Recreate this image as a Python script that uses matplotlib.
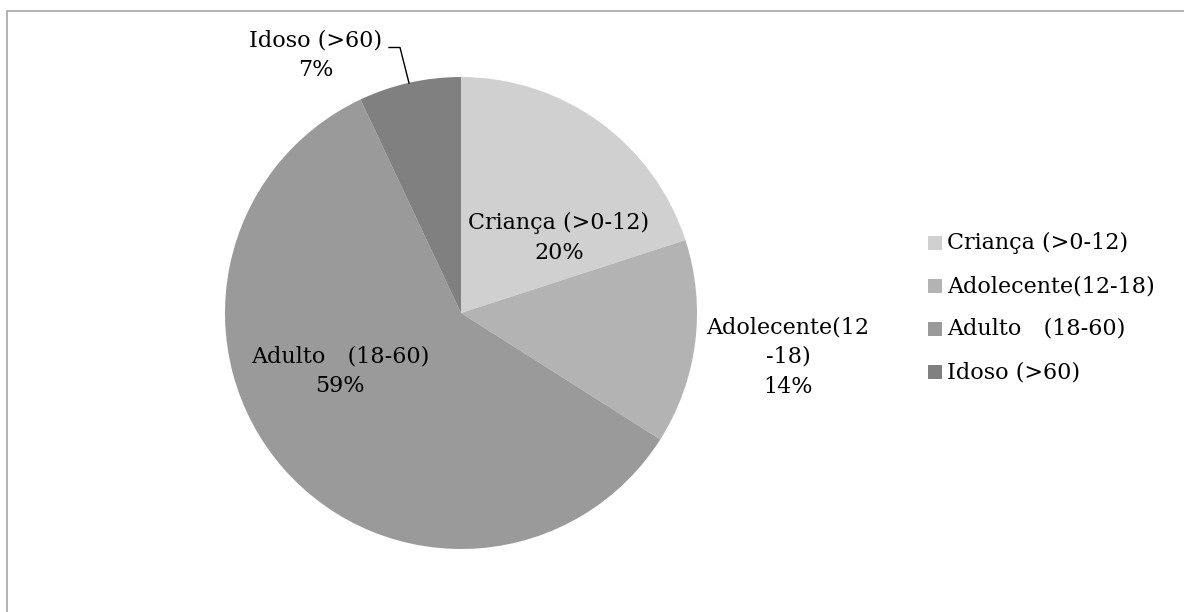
import matplotlib
matplotlib.use("Agg")
import matplotlib.pyplot as plt
from matplotlib.patches import Rectangle
from matplotlib.lines import Line2D

plt.rcParams['font.family'] = ['DejaVu Serif', 'Noto Sans CJK JP']

categories = ["Criança (>0-12)", "Adolecente(12-18)", "Adulto\u3000(18-60)", "Idoso (>60)"]
slice_labels = ["Criança (>0-12)", "Adolecente(12\n-18)", "Adulto\u3000(18-60)", "Idoso (>60)"]
values = [20, 14, 59, 7]
colors = ["#d0d0d0", "#b3b3b3", "#9a9a9a", "#808080"]

W, H = 1184, 612
FS = 16
fig = plt.figure(figsize=(W / 100, H / 100), dpi=100)

# outer chart frame (top and left edges visible)
fig.add_artist(Rectangle((7 / W, -0.1), 1.2, 1 - 11 / H + 0.1, transform=fig.transFigure,
                         fill=False, edgecolor="#a6a6a6", linewidth=1.2))

cx, cy, r = 461, 313, 236
ax = fig.add_axes([(cx - r) / W, (H - cy - r) / H, 2 * r / W, 2 * r / H])
wedges, _ = ax.pie(values, colors=colors, startangle=90, counterclock=False,
                   radius=1, wedgeprops=dict(linewidth=0))
ax.set_xlim(-1, 1)
ax.set_ylim(-1, 1)
ax.set_aspect("equal")
ax.axis("off")


def px(x, y):
    return (x - cx) / r, (cy - y) / r


label_pos = [px(559, 238), px(788, 357), px(340, 371), px(316, 55)]
for lab, v, pos in zip(slice_labels, values, label_pos):
    ax.text(pos[0], pos[1], f"{lab}\n{v}%", ha="center", va="center",
            fontsize=FS, linespacing=1.45, clip_on=False)

# leader line for the small slice
lx, ly = zip(px(389, 47.5), px(400, 47.5), px(409, 83))
ax.add_line(Line2D(lx, ly, color="black", linewidth=1, clip_on=False))

# legend
for i, (lab, c) in enumerate(zip(categories, colors)):
    y = 243 + i * 43
    fig.add_artist(Rectangle((928 / W, (H - y - 7) / H), 14 / W, 14 / H,
                             transform=fig.transFigure, facecolor=c, edgecolor="none"))
    fig.text(947 / W, (H - y) / H, lab, ha="left", va="center", fontsize=FS)

fig.savefig("out.png", dpi=100, facecolor="white")
